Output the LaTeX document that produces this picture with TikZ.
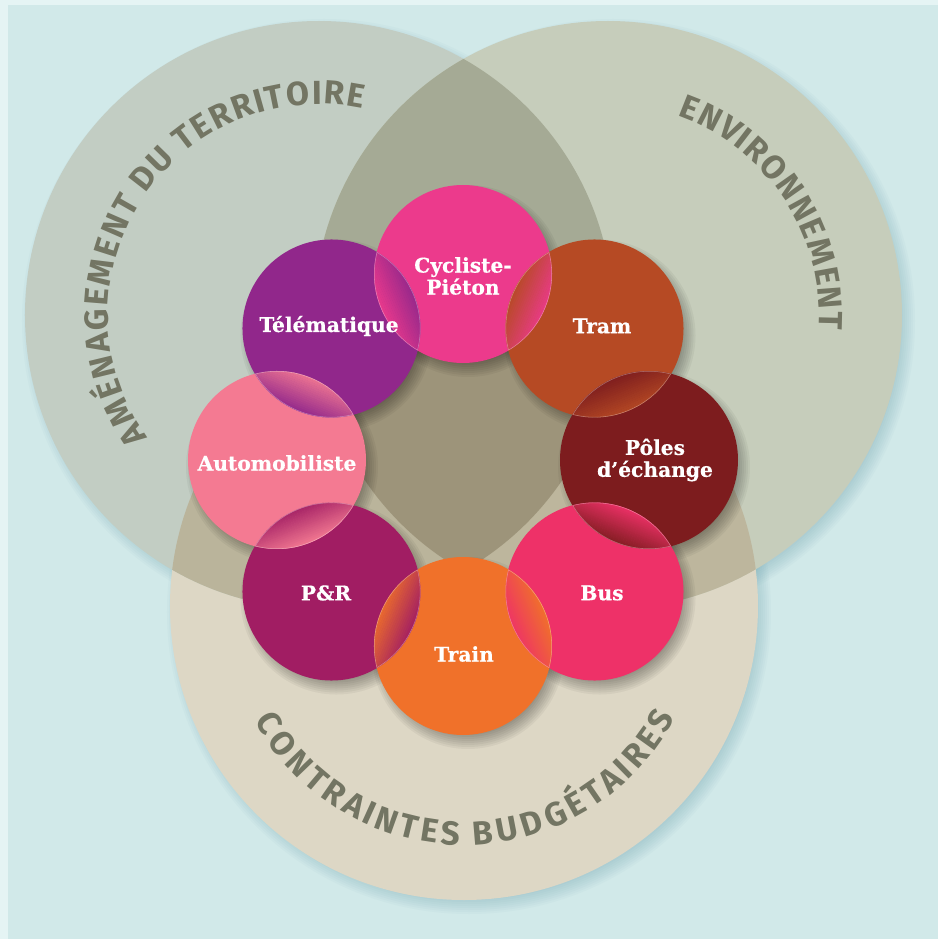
\documentclass[tikz,border=0pt]{standalone}
\usepackage{fontspec}
\usetikzlibrary{decorations.text}

\newfontfamily\arcfont{Fira Sans}
\newfontfamily\labfont[BoldFeatures={FakeBold=0.5}]{DejaVu Serif}
\newcommand\arcbig{\arcfont\bfseries\fontsize{19}{19}\selectfont}

\definecolor{bgpale}{HTML}{E5F4F4}
\definecolor{bgcyan}{HTML}{D1E9E9}
\definecolor{shadowcyan}{HTML}{6FA6B2}
\definecolor{amencol}{HTML}{C2CDC3}
\definecolor{envicol}{HTML}{C6CDBB}
\definecolor{budgcol}{HTML}{DDD7C5}
\definecolor{aecol}{HTML}{A5AA95}
\definecolor{abcol}{HTML}{BAB49B}
\definecolor{ebcol}{HTML}{BDB69D}
\definecolor{aebcol}{HTML}{9D947A}
\definecolor{arcgray}{HTML}{737563}
\definecolor{cyclcol}{HTML}{EC3A8C}
\definecolor{tramcol}{HTML}{B64A24}
\definecolor{polecol}{HTML}{7D1C1E}
\definecolor{buscol}{HTML}{EE3168}
\definecolor{traincol}{HTML}{F0712A}
\definecolor{prcol}{HTML}{A11D63}
\definecolor{autocol}{HTML}{F47A92}
\definecolor{telecol}{HTML}{91278B}

\tikzset{
  mode/.style={font=\labfont\bfseries\fontsize{11.5}{12.5}\selectfont, text=white, align=center},
  arctext/.style={decorate, decoration={text effects along path, text={#1},
      text effects/.cd, text along path, fit text to path,
      characters={font=\arcbig, text=arcgray}}},
}

\begin{document}
\begin{tikzpicture}[x=0.2mm, y=0.2mm]
  \useasboundingbox (-463,-479) rectangle (475,460);
  \fill[bgpale] (-463,-479) rectangle (475,460);
  \fill[bgcyan] (-455,-479) rectangle (475,455);

  \coordinate (amen) at (-144,145);
  \coordinate (envi) at (145,145);
  \coordinate (budg) at (1,-146);

  % soft shadows of the three themes
  \foreach \c in {amen,envi,budg}
    \foreach \k in {1,...,8}
      \fill[shadowcyan, opacity=0.05] (\c) ++(5,-6) circle[radius=286+2*\k];

  \fill[budgcol] (budg) circle[radius=294];
  \fill[amencol] (amen) circle[radius=294];
  \fill[envicol] (envi) circle[radius=294];
  \begin{scope}
    \clip (amen) circle[radius=294];
    \fill[aecol] (envi) circle[radius=294];
    \fill[abcol] (budg) circle[radius=294];
  \end{scope}
  \begin{scope}
    \clip (envi) circle[radius=294];
    \fill[ebcol] (budg) circle[radius=294];
  \end{scope}
  \begin{scope}
    \clip (amen) circle[radius=294];
    \clip (envi) circle[radius=294];
    \fill[aebcol] (budg) circle[radius=294];
  \end{scope}

  \path[arctext={AMÉNAGEMENT DU TERRITOIRE}]
    (amen) ++(215.6:211) arc[start angle=215.6, end angle=77.9, radius=211];
  \path[arctext={ENVIRONNEMENT}]
    (envi) ++(70.8:211) arc[start angle=70.8, end angle=-3.9, radius=211];
  \path[arctext={CONTRAINTES BUDGÉTAIRES}]
    (budg) ++(208.7:239) arc[start angle=208.7, end angle=332.1, radius=239];

  % the eight modes
  \foreach \a in {90,45,0,-45,-90,-135,180,135}
    \foreach \k in {0,...,7}
      \fill[black, opacity=0.045] (\a:186) ++(5,-7) circle[radius=82+2*\k];
  \foreach \a/\col in {90/cyclcol, 45/tramcol, 0/polecol, -45/buscol, -90/traincol, -135/prcol, 180/autocol, 135/telecol}
    \fill[\col] (\a:186) circle[radius=89];

  \foreach \a/\ca/\cb in {135/telecol/cyclcol, 90/cyclcol/tramcol, 45/tramcol/polecol, 0/polecol/buscol,
                          -45/buscol/traincol, -90/traincol/prcol, -135/prcol/autocol, 180/autocol/telecol}
  {
    \begin{scope}[shift={(\a:186)}, rotate=\a-112.5]
      \clip (0,0) circle[radius=89];
      \clip (142.4,0) circle[radius=89];
      \foreach \i in {0,...,17} {
        \pgfmathtruncatemacro\p{95-\i*85/17}
        \fill[\cb!\p!\ca] (53+2*\i,-60) rectangle ++(2.3,120);
      }
      \draw[white, opacity=0.35, line width=0.6pt] (0,0) circle[radius=89] (142.4,0) circle[radius=89];
    \end{scope}
  }

  \node[mode] (cycl) at (0,184) {Cycliste-\\Piéton};
  \node[mode] (tram) at (139,134) {Tram};
  \node[mode] (pole) at (192,0) {Pôles\\d’échange};
  \node[mode] (bus) at (139,-133) {Bus};
  \node[mode] (train) at (1,-194) {Train};
  \node[mode] (pr) at (-137,-133) {P\&R};
  \node[mode] (auto) at (-186,-3) {Automobiliste};
  \node[mode] (tele) at (-134,134) {Télématique};
\end{tikzpicture}
\end{document}
